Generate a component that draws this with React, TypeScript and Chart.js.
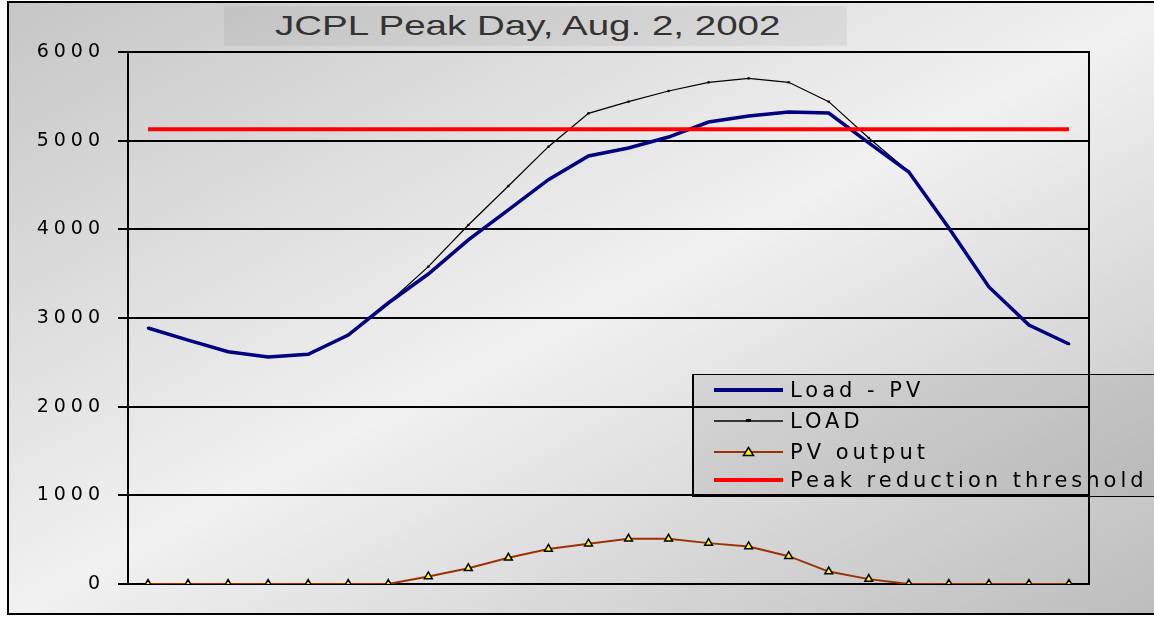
import React, { useEffect, useRef } from "react";
import { Chart, registerables } from "chart.js";

Chart.register(...registerables);

// ---- Data ----
const hours = ["1", "2", "3", "4", "5", "6", "7", "8", "9", "10", "11", "12", "13", "14", "15", "16", "17", "18", "19", "20", "21", "22", "23", "24"];
const loadMinusPV = [2887, 2750, 2620, 2560, 2590, 2808, 3169, 3496, 3880, 4220, 4560, 4827, 4917, 5041, 5210, 5278, 5323, 5312, 4975, 4646, 4015, 3350, 2920, 2707];
const load = [2887, 2750, 2620, 2560, 2590, 2808, 3169, 3579, 4049, 4489, 4932, 5308, 5440, 5560, 5658, 5703, 5658, 5440, 5030, 4650, 4015, 3350, 2920, 2707];
const pvOutput = [0, 0, 0, 0, 0, 0, 0, 85, 177, 295, 395, 454, 509, 509, 461, 424, 314, 140, 55, 0, 0, 0, 0, 0];
const threshold = [5130, 5130, 5130, 5130, 5130, 5130, 5130, 5130, 5130, 5130, 5130, 5130, 5130, 5130, 5130, 5130, 5130, 5130, 5130, 5130, 5130, 5130, 5130, 5130];
const yMin = 0;
const yMax = 6000;
const yStep = 1000;

const titleText = "JCPL Peak Day, Aug. 2, 2002";
const seriesNames = ["Load - PV", "LOAD", "PV output", "Peak reduction threshold"];

const NAVY = "#000080";
const BROWN = "#993300";
const RED = "#ff0000";

const framePlugin = {
  id: "frame",
  beforeDraw(chart: any) {
    (chart.ctx as any).letterSpacing = "5px";
  },
  beforeDatasetsDraw(chart: any) {
    const ctx = chart.ctx;
    (ctx as any).letterSpacing = "0px";
    const { top, bottom, right } = chart.chartArea;
    ctx.save();
    ctx.strokeStyle = "#000";
    ctx.lineWidth = 2;
    ctx.beginPath();
    ctx.moveTo(right, top - 1);
    ctx.lineTo(right, bottom + 1);
    ctx.stroke();
    ctx.restore();
  },
  afterDraw(chart: any) {
    (chart.ctx as any).letterSpacing = "0px";
  },
};

function LegendRow({ top, kind, label }: { top: number; kind: number; label: string }) {
  let sample: React.ReactNode = null;
  if (kind === 0) {
    sample = <line x1={0} y1={8} x2={69} y2={8} stroke={NAVY} strokeWidth={4} />;
  } else if (kind === 1) {
    sample = (
      <g>
        <line x1={0} y1={8} x2={69} y2={8} stroke="#000" strokeWidth={1.5} />
        <rect x={32} y={6} width={5} height={3} fill="#000" />
      </g>
    );
  } else if (kind === 2) {
    sample = (
      <g>
        <line x1={0} y1={8} x2={69} y2={8} stroke={BROWN} strokeWidth={2} />
        <polygon points="29.5,11.5 34.5,3.5 39.5,11.5" fill="#ffff00" stroke="#000" strokeWidth={1.5} />
      </g>
    );
  } else {
    sample = <line x1={0} y1={8} x2={69} y2={8} stroke={RED} strokeWidth={4} />;
  }
  return (
    <div style={{ position: "absolute", left: 0, top: top - 8, height: 16, width: 470 }}>
      <svg width={70} height={16} style={{ position: "absolute", left: 20, top: 0 }}>
        {sample}
      </svg>
      <div
        style={{
          position: "absolute",
          left: 96,
          top: -6,
          height: 28,
          lineHeight: "28px",
          fontFamily: "'DejaVu Sans', sans-serif",
          fontSize: 21,
          letterSpacing: "4px",
          color: "#000",
          whiteSpace: "nowrap",
        }}
      >
        {label}
      </div>
    </div>
  );
}

export default function App() {
  const canvasRef = useRef<HTMLCanvasElement | null>(null);

  useEffect(() => {
    document.body.style.margin = "0";
    const canvas = canvasRef.current;
    if (!canvas) return;
    const chart = new Chart(canvas, {
      type: "line",
      data: {
        labels: hours,
        datasets: [
          {
            label: seriesNames[3],
            data: threshold,
            borderColor: RED,
            borderWidth: 4,
            pointRadius: 0,
            tension: 0,
            order: 0,
          },
          {
            label: seriesNames[0],
            data: loadMinusPV,
            borderColor: NAVY,
            borderWidth: 3.5,
            pointRadius: 0,
            tension: 0,
            order: 1,
          },
          {
            label: seriesNames[1],
            data: load,
            borderColor: "#000",
            borderWidth: 1.2,
            pointStyle: "rect",
            pointRadius: 1.6,
            pointBackgroundColor: "#000",
            pointBorderColor: "#000",
            pointBorderWidth: 0,
            tension: 0,
            order: 2,
          },
          {
            label: seriesNames[2],
            data: pvOutput,
            borderColor: BROWN,
            borderWidth: 2,
            pointStyle: "triangle",
            pointRadius: 4.5,
            pointBackgroundColor: "#ffff00",
            pointBorderColor: "#000",
            pointBorderWidth: 1.5,
            tension: 0,
            order: 3,
          },
        ],
      },
      options: {
        responsive: false,
        animation: false,
        devicePixelRatio: 1,
        layout: { padding: { left: 0, top: 52, right: 65, bottom: 33 } },
        plugins: {
          legend: { display: false },
          title: { display: false },
          tooltip: { enabled: false },
        },
        scales: {
          x: {
            type: "category",
            offset: true,
            grid: { display: false },
            ticks: { display: false },
            border: { display: true, color: "#000", width: 2 },
            afterFit: (s: any) => {
              s.height = 0;
            },
          },
          y: {
            min: yMin,
            max: yMax,
            ticks: {
              stepSize: yStep,
              color: "#000",
              padding: 13,
              font: { family: "'DejaVu Sans', sans-serif", size: 19 },
              callback: (v: any) => String(v),
            },
            grid: { color: "#000", lineWidth: 2, tickLength: 10, drawTicks: true },
            border: { display: true, color: "#000", width: 2 },
            afterFit: (s: any) => {
              s.width = 128;
            },
          },
        },
      },
      plugins: [framePlugin],
    } as any);
    return () => chart.destroy();
  }, []);

  return (
    <div style={{ position: "fixed", left: 0, top: 0, width: 1154, height: 617, overflow: "hidden", background: "#fff" }}>
      <div
        style={{
          position: "absolute",
          left: 7,
          top: 1,
          width: 1170,
          height: 610,
          border: "2px solid #000",
          background: "linear-gradient(to bottom right, #c6c6c6 0%, #f1f1f1 50%, #bcbcbc 100%)",
        }}
      />
      <div
        style={{
          position: "absolute",
          left: 224,
          top: 6,
          width: 623,
          height: 40,
          background: "rgba(0,0,0,0.05)",
        }}
      />
      <div
        style={{
          position: "absolute",
          left: 275,
          top: 12,
          lineHeight: "28px",
          fontFamily: "'Liberation Sans', Arial, sans-serif",
          fontSize: 28,
          color: "#333",
          whiteSpace: "nowrap",
          transform: "scaleX(1.376)",
          transformOrigin: "0 0",
        }}
      >
        {titleText}
      </div>
      <canvas ref={canvasRef} width={1154} height={617} style={{ position: "absolute", left: 0, top: 0, width: 1154, height: 617 }} />
      <div
        style={{
          position: "absolute",
          left: 692,
          top: 374,
          width: 480,
          height: 121,
          borderTop: "1.5px solid #000",
          borderLeft: "2px solid #000",
          borderBottom: "1.5px solid #000",
          background: "rgba(0,0,0,0.07)",
        }}
      >
        <LegendRow top={15} kind={0} label={seriesNames[0]} />
        <LegendRow top={46} kind={1} label={seriesNames[1]} />
        <LegendRow top={77} kind={2} label={seriesNames[2]} />
        <LegendRow top={105} kind={3} label={seriesNames[3]} />
      </div>
    </div>
  );
}
